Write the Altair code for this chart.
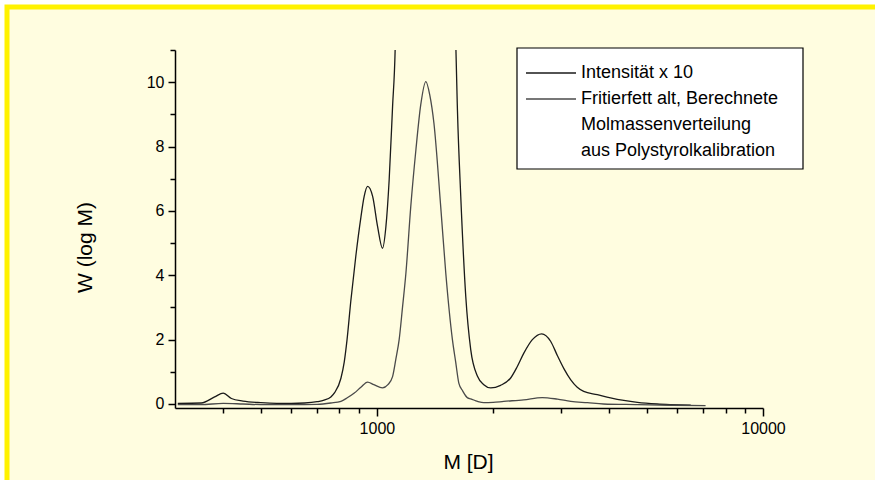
import altair as alt
import pandas as pd

# ---------------- data ----------------
SERIES = [
    "Intensität x 10",
    "Fritierfett alt, Berechnete",
    "\u00a0Molmassenverteilung",
    "\u00a0aus Polystyrolkalibration",
]
COLORS = ["#1a1a1a", "#4a4a4a", "rgba(0,0,0,0)", "rgba(0,0,0,0)"]

# Intensität x 10 (runs off the top of the chart around the main peak)
M_INT = [305, 351, 380, 400, 420, 450, 500, 550, 600, 650, 700, 730, 760, 778,
         807, 823, 837, 856, 882, 909, 927, 946, 975, 1004, 1034, 1055, 1076,
         1098, 1115, 1154, 1224, 1339, 1463, 1553, 1600, 1617, 1649, 1699, 1750,
         1822, 1892, 1972, 2091, 2218, 2307, 2402, 2527, 2672, 2818, 2935, 3050,
         3178, 3303, 3433, 3722, 4028, 4360, 4728, 5320, 5765, 6500]
W_INT = [0.02, 0.03, 0.22, 0.34, 0.17, 0.09, 0.04, 0.02, 0.02, 0.03, 0.07, 0.12,
         0.22, 0.36, 0.8, 1.3, 2.0, 3.2, 4.6, 5.8, 6.45, 6.76, 6.45, 5.52, 4.84,
         5.5, 6.97, 9.24, 11.0, 25, 60, 100, 60, 25, 11.3, 9.1, 6.45, 3.34, 1.69,
         0.86, 0.6, 0.5, 0.58, 0.8, 1.15, 1.58, 2.0, 2.18, 1.95, 1.5, 1.1, 0.75,
         0.52, 0.39, 0.29, 0.19, 0.11, 0.05, 0.0, -0.02, -0.04]

# Fritierfett alt, berechnete Molmassenverteilung
M_FRI = [305, 350, 400, 450, 500, 600, 700, 760, 807, 840, 874, 909, 946, 982,
         1034, 1068, 1098, 1120, 1142, 1165, 1189, 1224, 1262, 1299, 1339, 1371,
         1405, 1463, 1508, 1569, 1600, 1630, 1669, 1718, 1750, 1822, 1892, 2000,
         2130, 2400, 2680, 2935, 3178, 3510, 3860, 4728, 5800, 7100]
W_FRI = [-0.02, -0.02, 0.02, 0.0, -0.02, -0.02, -0.01, 0.03, 0.08, 0.2, 0.34,
         0.52, 0.68, 0.6, 0.5, 0.6, 0.85, 1.4, 2.0, 3.0, 4.07, 6.14, 7.9, 9.3,
         10.02, 9.6, 8.73, 6.14, 4.07, 2.0, 1.3, 0.65, 0.4, 0.19, 0.16, 0.08,
         0.04, 0.05, 0.08, 0.13, 0.2, 0.15, 0.08, 0.04, 0.0, -0.02, -0.04, -0.05]

X_TICKS = [400, 500, 600, 700, 800, 900, 1000, 2000, 3000, 4000, 5000, 6000,
           7000, 8000, 9000, 10000]
Y_TICKS = [0, 1, 2, 3, 4, 5, 6, 7, 8, 9, 10, 11]

# ---------------- build table ----------------
rows = [{"M": m, "W": w, "Serie": SERIES[0]} for m, w in zip(M_INT, W_INT)]
rows += [{"M": m, "W": w, "Serie": SERIES[1]} for m, w in zip(M_FRI, W_FRI)]
df = pd.DataFrame(rows)

FONT = "Liberation Sans"
CREAM = "#FFFDE0"
YELLOW = "#FFF200"

W_PLOT, H_PLOT = 588, 358
PAD = {"left": 175, "top": 50, "right": 112, "bottom": 72}

x_enc = alt.X(
    "M:Q",
    title="M [D]",
    scale=alt.Scale(type="log", domain=[300, 10000], nice=False),
    axis=alt.Axis(
        values=X_TICKS,
        format="d",
        labelExpr="datum.value == 1000 || datum.value == 10000 ? datum.label : ''",
        labelOverlap=False,
        labelFlush=False,
        tickSize={"condition": {"test": "datum.value == 1000 || datum.value == 10000", "value": 8}, "value": 5},
        labelPadding=4,
        labelFontSize=16,
        labelFont=FONT,
        labelColor="black",
        titleFont=FONT,
        titleFontSize=21,
        titleFontWeight="normal",
        titleColor="black",
        titleX=293,
        titleY=54,
        titleBaseline="middle",
        grid=False,
        domainColor="black",
        domainWidth=1.5,
        tickColor="black",
        tickWidth=1.5,
        zindex=2,
    ),
)

y_enc = alt.Y(
    "W:Q",
    title="W (log M)",
    scale=alt.Scale(domain=[-0.125, 11], nice=False, zero=False),
    axis=alt.Axis(
        values=Y_TICKS,
        labelExpr="datum.value % 2 == 0 ? datum.label : ''",
        labelOverlap=False,
        labelFlush=False,
        tickSize={"condition": {"test": "datum.value % 2 == 0", "value": 7}, "value": 5},
        labelPadding=4,
        labelFontSize=16,
        labelFont=FONT,
        labelColor="black",
        titleFont=FONT,
        titleFontSize=21,
        titleFontWeight="normal",
        titleColor="black",
        titleX=-90,
        titleY=197,
        titleBaseline="middle",
        grid=False,
        domainColor="black",
        domainWidth=1.5,
        tickColor="black",
        tickWidth=1.5,
        zindex=2,
    ),
)

lines = alt.Chart(df).mark_line(clip=True, strokeWidth=1.3, interpolate="monotone").encode(
    x=x_enc,
    y=y_enc,
    color=alt.Color(
        "Serie:N",
        sort=SERIES,
        scale=alt.Scale(domain=SERIES, range=COLORS),
        legend=alt.Legend(
            orient="none",
            legendX=347,
            legendY=14,
            title=None,
            symbolType="M-5,0H5",
            symbolSize=100,
            symbolStrokeWidth=1.3,
            symbolOffset=20,
            labelOffset=21,
            labelFontSize=18,
            labelFont=FONT,
            labelColor="black",
            labelLimit=400,
            rowPadding=8,
            padding=0,
        ),
    ),
    order=alt.Order("M:Q"),
)

one = alt.Data(values=[{"k": 1}])

frame = alt.Chart(one).mark_rect(fill=CREAM, stroke=YELLOW, strokeWidth=5).encode(
    x=alt.value(7 - PAD["left"]),
    x2=alt.value(875 + 20 - PAD["left"]),
    y=alt.value(7 - PAD["top"]),
    y2=alt.value(480 + 20 - PAD["top"]),
)

legend_box = alt.Chart(one).mark_rect(fill="white", stroke="black", strokeWidth=1.2).encode(
    x=alt.value(517 - PAD["left"]),
    x2=alt.value(803 - PAD["left"]),
    y=alt.value(48 - PAD["top"]),
    y2=alt.value(169 - PAD["top"]),
)

chart = alt.layer(frame, legend_box, lines).properties(
    width=W_PLOT,
    height=H_PLOT,
    background="white",
    padding=PAD,
    autosize=alt.AutoSizeParams(type="none"),
).configure_view(stroke="transparent")

chart.save("out.html", embed_options={"renderer": "svg", "actions": False})
